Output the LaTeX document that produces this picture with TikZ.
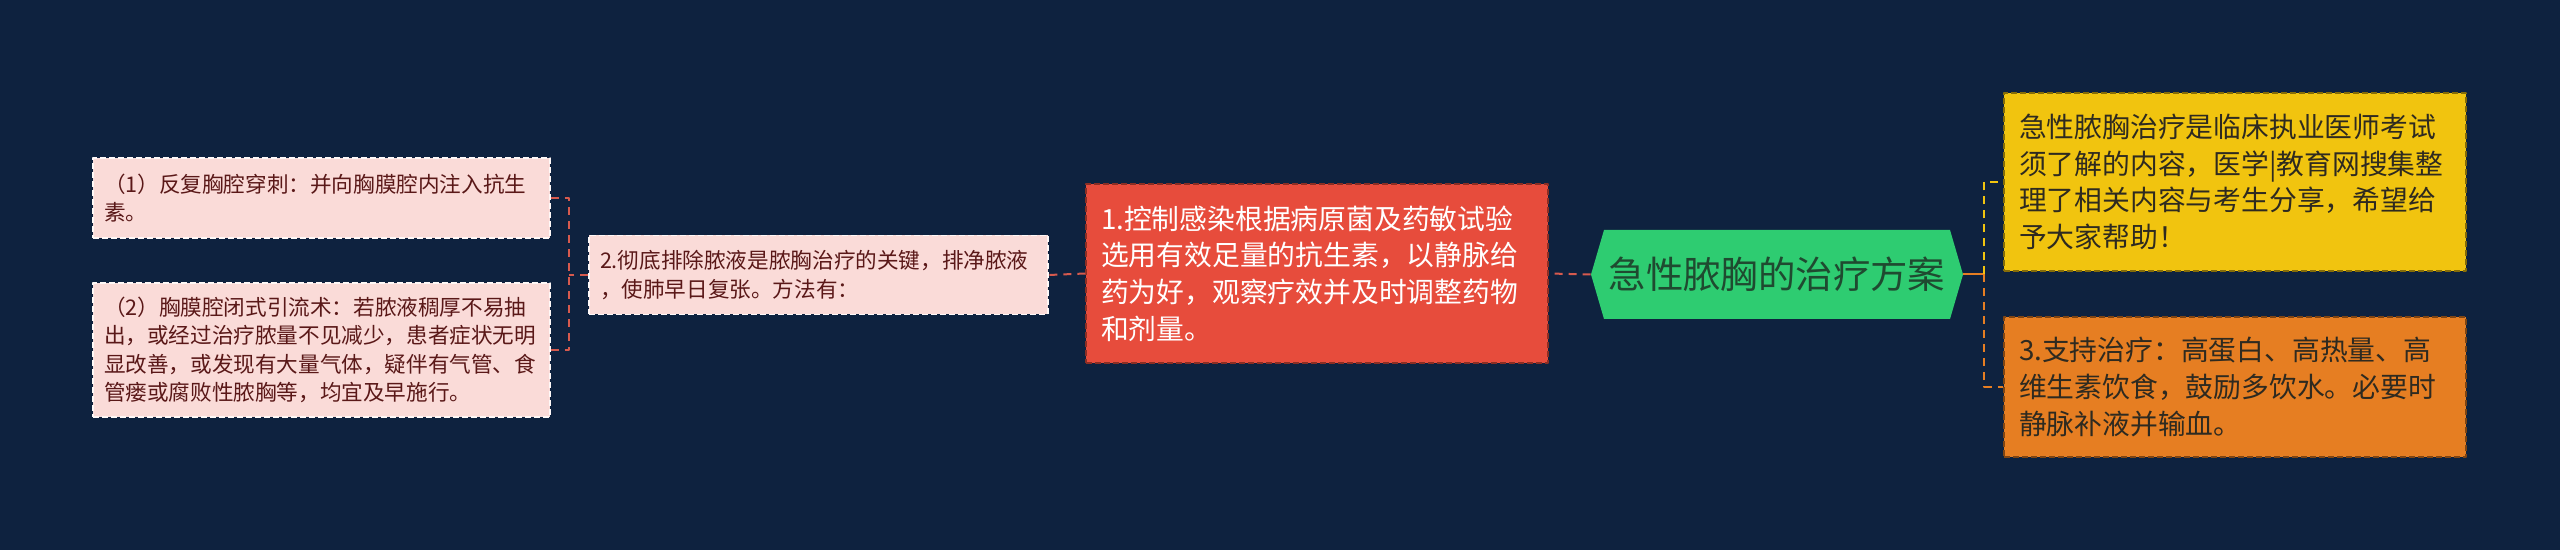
\documentclass[tikz,border=0pt]{standalone}
\usepackage{fontspec}
\newfontfamily\cjkfont{Noto Sans CJK SC}
\definecolor{bgnavy}{HTML}{0E223F}
\definecolor{pinkfill}{HTML}{FADBD8}
\definecolor{pinktext}{HTML}{5A1818}
\definecolor{linkred}{HTML}{D65A4E}
\definecolor{redfill}{HTML}{E74C3C}
\definecolor{rootgreen}{HTML}{2ECC71}
\definecolor{roottext}{HTML}{1F4A30}
\definecolor{yelfill}{HTML}{F1C40F}
\definecolor{orgfill}{HTML}{E67E22}
\definecolor{darktext}{HTML}{2E2A20}
\begin{document}
\begin{tikzpicture}[x=1pt,y=-1pt, line join=round,
	pinkbox/.style={draw=white!80!pinkfill, dash pattern=on 3pt off 1.5pt, line width=0.6pt, fill=pinkfill, text=pinktext, font=\cjkfont\fontsize{10.8}{14.2}\selectfont, align=left, inner xsep=5.5pt, inner ysep=0pt, minimum height=#1},
	bigbox/.style={dash pattern=on 3pt off 1.5pt, line width=0.6pt, font=\cjkfont\fontsize{13.9}{18.3}\selectfont, align=left, inner xsep=7.5pt, inner ysep=0pt, text width=216pt, minimum height=#1},
	link/.style={line width=1pt, dash pattern=on 4pt off 3pt}]
	%nen
	\fill[bgnavy] (0,0) rectangle (1280,275);
	%nhanh trai
	\node[pinkbox=40pt, text width=217.5pt] (treat1) at (160.75,99) {（1）反复胸腔穿刺：并向胸膜腔内注入抗生\\素。};
	\node[pinkbox=67pt, text width=217.5pt] (treat2) at (160.75,175) {（2）胸膜腔闭式引流术：若脓液稠厚不易抽\\出，或经过治疗脓量不见减少，患者症状无明\\显改善，或发现有大量气体，疑伴有气管、食\\管瘘或腐败性脓胸等，均宜及早施行。};
	\node[pinkbox=39.5pt, text width=218.5pt] (drain) at (409.25,137.5) {2.彻底排除脓液是脓胸治疗的关键，排净脓液\\，使肺早日复张。方法有：};
	\node[bigbox=89.5pt, fill=redfill, draw=redfill!60!black, text=white] (infect) at (658.5,136.75) {1.控制感染根据病原菌及药敏试验\\选用有效足量的抗生素，以静脉给\\药为好，观察疗效并及时调整药物\\和剂量。};
	%goc
	\fill[rootgreen] (795.5,137.25) -- (802,115) -- (975,115) -- (981.5,137.25) -- (975,159.5) -- (802,159.5) -- cycle;
	\node[minimum width=186pt, minimum height=44.5pt, inner sep=0pt, text=roottext, font=\cjkfont\fontsize{18.7}{22}\selectfont] (root) at (888.5,137.25) {急性脓胸的治疗方案};
	%nhanh phai
	\node[bigbox=89pt, fill=yelfill, draw=yelfill!55!black, text=darktext] (note) at (1117.5,91) {急性脓胸治疗是临床执业医师考试\\须了解的内容，医学|教育网搜集整\\理了相关内容与考生分享，希望给\\予大家帮助！};
	\node[bigbox=70pt, fill=orgfill, draw=orgfill!55!black, text=darktext] (support) at (1117.5,193.5) {3.支持治疗：高蛋白、高热量、高\\维生素饮食，鼓励多饮水。必要时\\静脉补液并输血。};
	%duong noi
	\draw[link, linkred] (root.west) -- (infect.east);
	\draw[link, linkred] (infect.west) -- (drain.east);
	\draw[link, linkred] (drain.west) -- ++(-9.5,0) coordinate (lbr);
	\foreach \p in {treat1, treat2}
	\draw[link, linkred] (\p.east) -| (lbr);
	\draw[line width=1pt, orgfill] (root.east) -- ++(10.5,0) coordinate (rbr);
	\draw[link, yelfill] (rbr) |- (note.west);
	\draw[link, orgfill] (rbr) |- (support.west);
\end{tikzpicture}
\end{document}
